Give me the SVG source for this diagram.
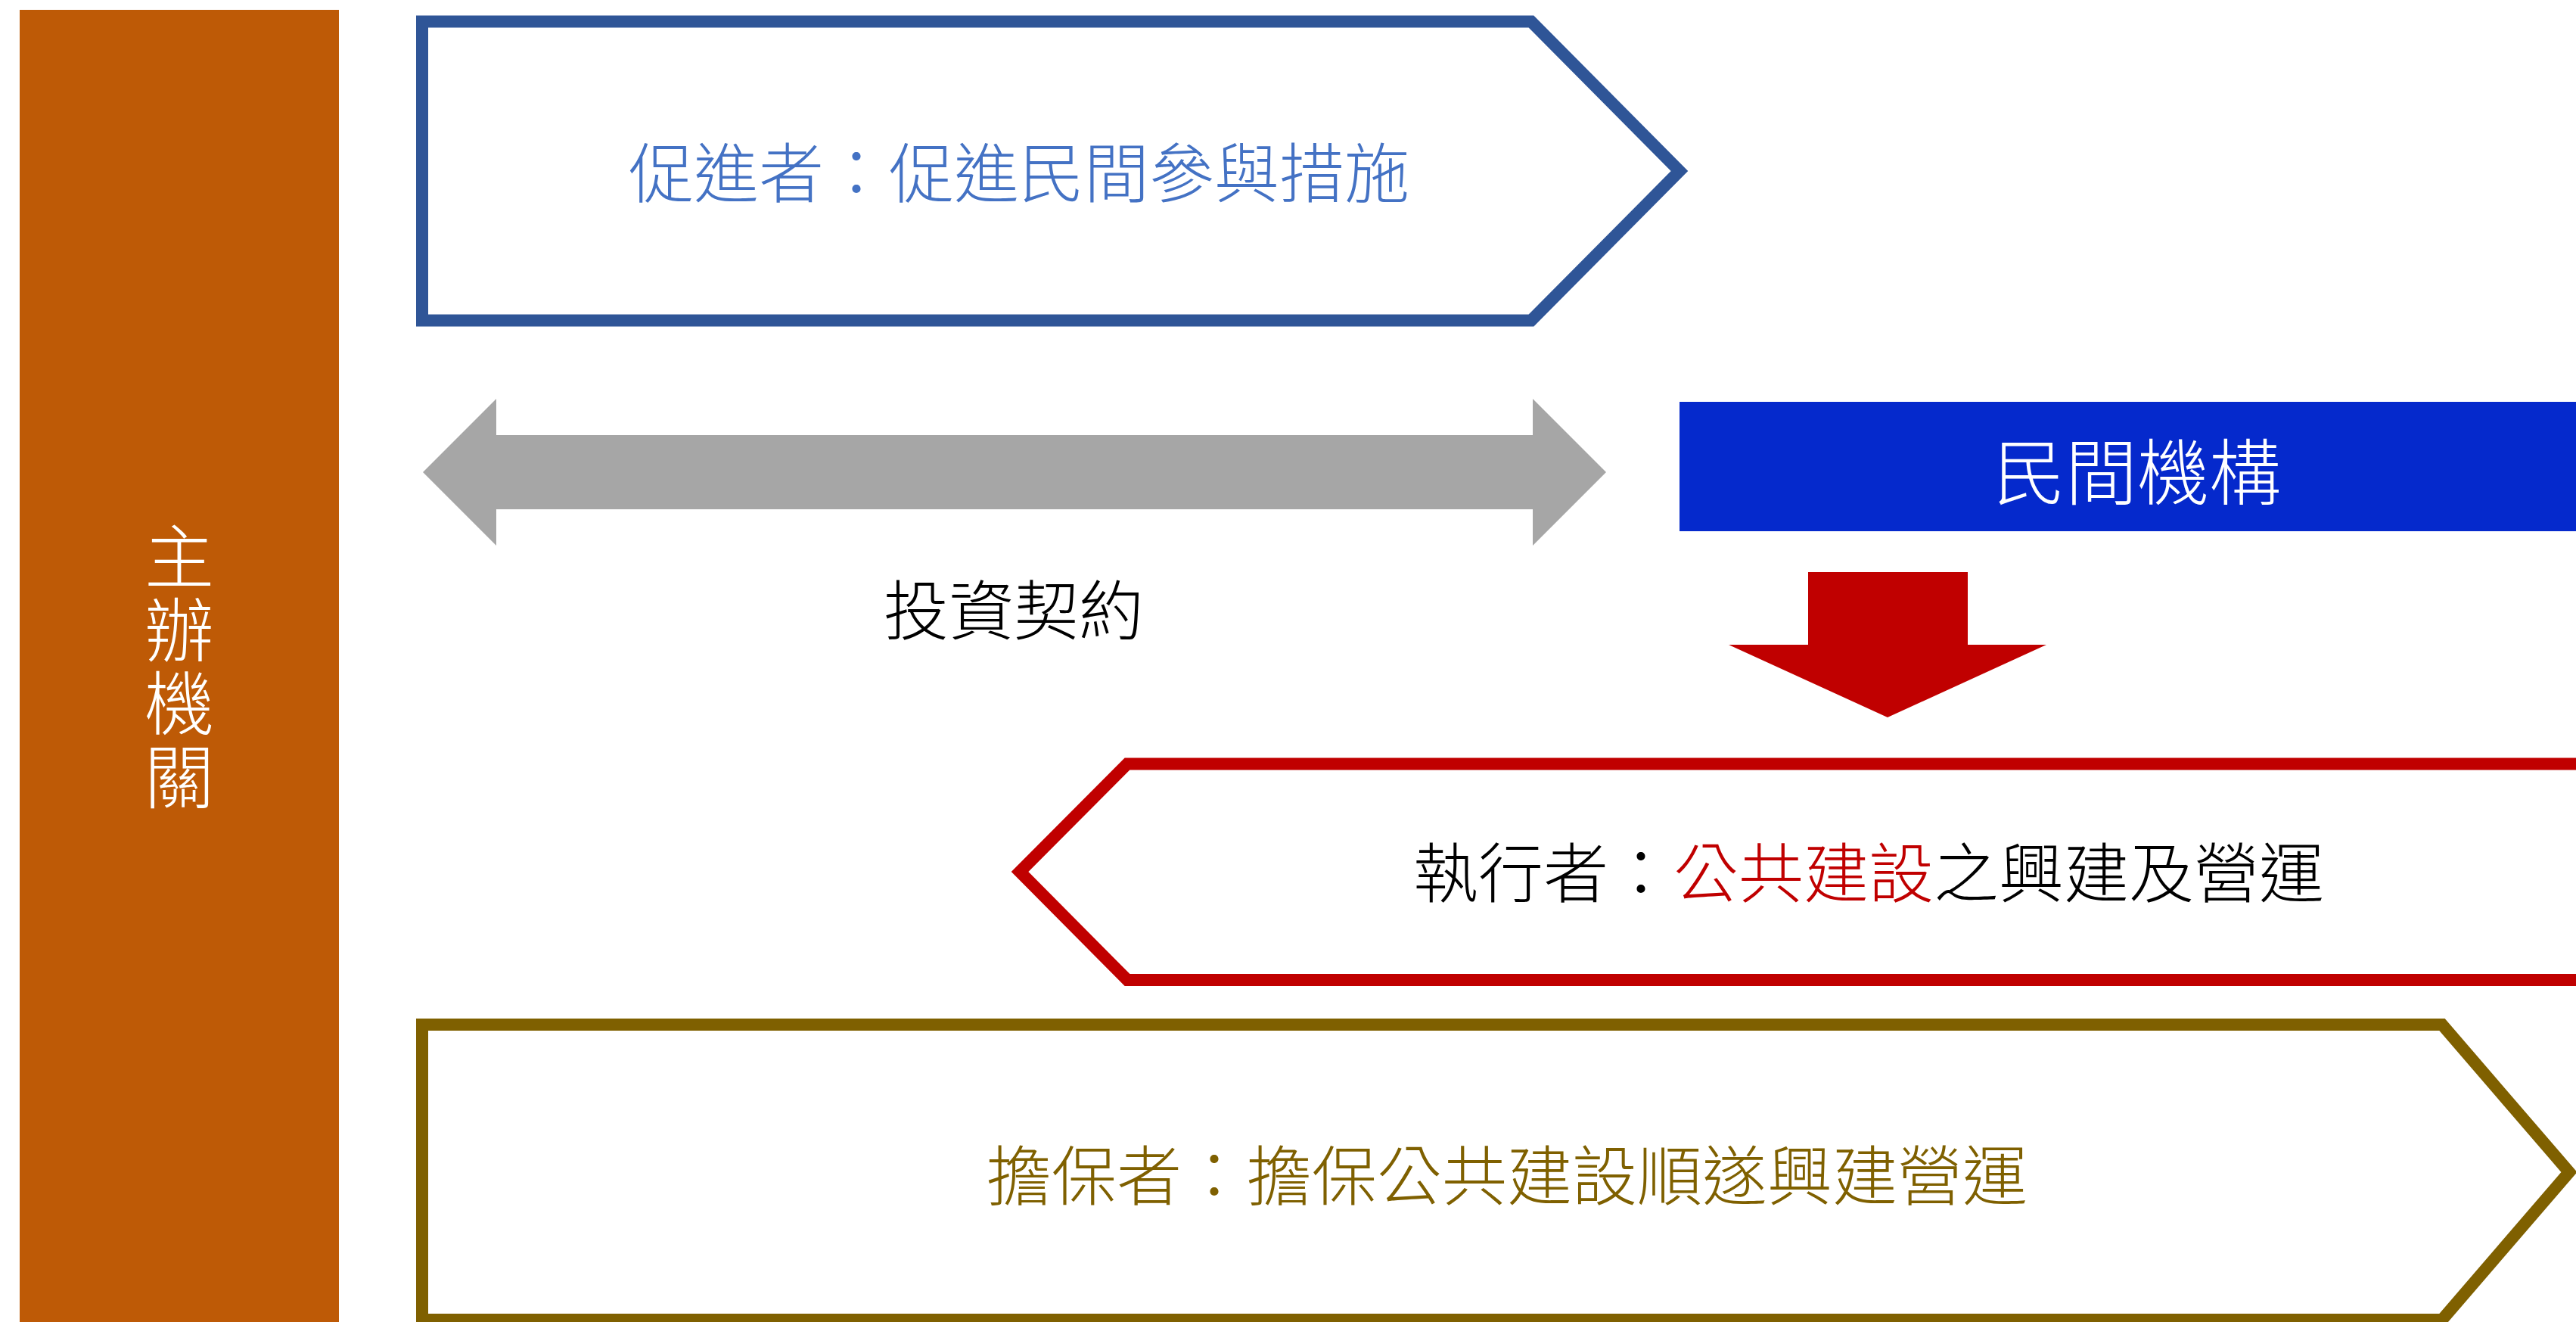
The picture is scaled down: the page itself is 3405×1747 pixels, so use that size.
<svg xmlns="http://www.w3.org/2000/svg" width="3405" height="1747" viewBox="0 0 3405 1747">
<style>
  text { font-family: "Noto Sans CJK TC", "Noto Sans CJK SC", sans-serif; font-weight: 300; text-anchor: middle; dominant-baseline: central; }
  .lbl { font-size: 86px; }
  .big { font-size: 95px; }
  .vert { font-size: 92px; writing-mode: vertical-rl; letter-spacing: 5px; }
  .frame { fill: #FFFFFF; stroke-width: 16; stroke-linejoin: miter; }
</style>
<rect width="3405" height="1747" fill="#FFFFFF"/>

<g id="host">
  <rect x="26" y="13" width="422" height="1734" fill="#BE5A06"/>
  <text class="vert" x="237" y="883" fill="#FFFFFF">主辦機關</text>
</g>

<g id="promoter">
  <path class="frame" d="M558,28.5 L2024,28.5 L2220,226 L2024,423.5 L558,423.5 Z" stroke="#2F5597"/>
  <text class="lbl" x="1347" y="223" fill="#4472C4">促進者：促進民間參與措施</text>
</g>

<g id="private">
  <rect x="2220" y="531" width="1185" height="171" fill="#0529CC"/>
  <text class="big" x="2825" y="618" fill="#FFFFFF">民間機構</text>
</g>

<g id="executor">
  <path class="frame" d="M3420,1009.5 L1490,1009.5 L1348,1152 L1490,1295 L3420,1295" stroke="#C00000"/>
  <text class="lbl" x="2470" y="1148" fill="#000000">執行者：<tspan fill="#C00000">公共建設</tspan>之興建及營運</text>
</g>

<g id="guarantor">
  <path class="frame" d="M558,1354 L3228,1354 L3396,1549 L3228,1744 L558,1744 Z" stroke="#7F6000"/>
  <text class="lbl" x="1992" y="1548" fill="#7F6000">擔保者：擔保公共建設順遂興建營運</text>
</g>

<g id="connectors">
  <path id="contract-arrow" d="M559,624 L656,527 L656,575 L2026,575 L2026,527 L2123,624 L2026,721 L2026,673 L656,673 L656,721 Z" fill="#A6A6A6"/>
  <text class="lbl" x="1340" y="801" fill="#000000">投資契約</text>
  <path id="down-arrow" d="M2390,756 L2601,756 L2601,852 L2705,852 L2495,948 L2285,852 L2390,852 Z" fill="#C00000"/>
</g>
</svg>
